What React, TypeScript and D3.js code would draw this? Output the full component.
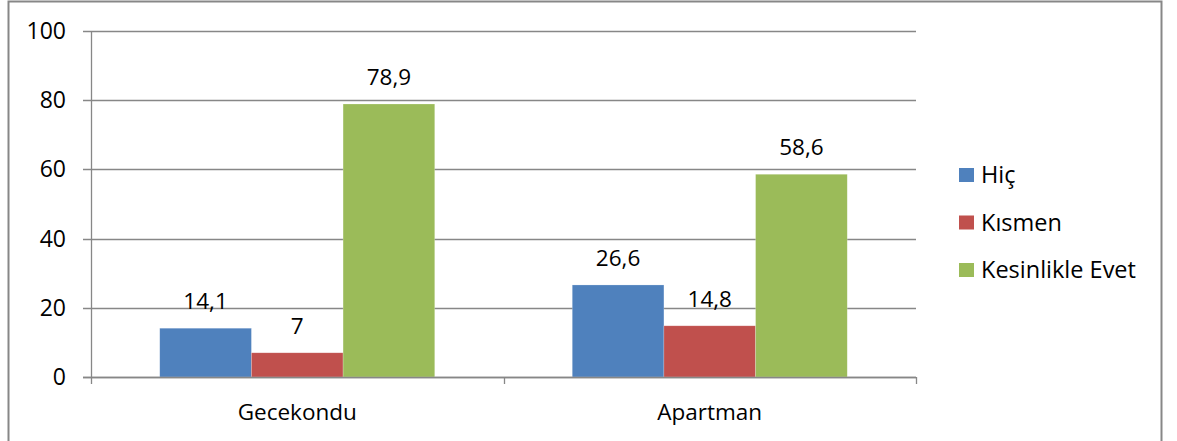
import React from "react";
import * as d3 from "d3";

const categories = ["Gecekondu", "Apartman"];
const seriesNames = ["Hiç", "Kısmen", "Kesinlikle Evet"];
const hicValues = [14.1, 26.6];
const kismenValues = [7, 14.8];
const evetValues = [78.9, 58.6];
const yTicks = [0, 20, 40, 60, 80, 100];
const seriesColors = ["#4F81BD", "#C0504D", "#9BBB59"];

const W = 1177;
const H = 441;
const FONT = "'Open Sans', 'Noto Sans', sans-serif";

export default function App() {
  const series = [hicValues, kismenValues, evetValues];
  const plotLeft = 91;
  const plotRight = 916;
  const plotTop = 31;
  const plotBottom = 377;

  const y = d3.scaleLinear().domain([0, 100]).range([plotBottom, plotTop]);
  const x0 = d3.scaleBand<string>().domain(categories).range([plotLeft, plotRight]).paddingInner(0).paddingOuter(0);
  const x1 = d3
    .scaleBand<number>()
    .domain(d3.range(seriesNames.length))
    .range([0, x0.bandwidth()])
    .paddingInner(0)
    .paddingOuter(0.75);

  const fmt = (v: number) => String(v).replace(".", ",");
  const catBoundaries = [plotLeft, ...categories.map((c) => (x0(c) as number) + x0.bandwidth())];

  return (
    <svg width={W} height={H} style={{ position: "absolute", left: 0, top: 0, background: "#fff" }}>
      <rect x={0} y={0} width={W} height={H} fill="#fff" />
      {/* outer border */}
      <path d={`M8.5,${H + 5} V1.5 H1161.5 V${H + 5}`} fill="none" stroke="#878787" strokeWidth={2} />

      {/* gridlines */}
      {yTicks.map((t) => (
        <line key={"g" + t} x1={plotLeft - 8} x2={plotRight} y1={Math.round(y(t)) + 0.5} y2={Math.round(y(t)) + 0.5} stroke="#878787" strokeWidth={1.3} />
      ))}

      {/* bars */}
      {categories.map((c, ci) =>
        series.map((vals, si) => {
          const bx = (x0(c) as number) + (x1(si) as number);
          const by = y(vals[ci]);
          return (
            <rect key={c + si} x={bx} y={by} width={x1.bandwidth()} height={plotBottom - by} fill={seriesColors[si]} stroke="rgba(255,255,255,0.35)" strokeWidth={0.6} />
          );
        })
      )}

      {/* axes */}
      <line x1={plotLeft + 0.5} x2={plotLeft + 0.5} y1={plotTop} y2={plotBottom} stroke="#878787" strokeWidth={1.3} />
      <line x1={plotLeft - 8} x2={plotRight} y1={plotBottom + 0.5} y2={plotBottom + 0.5} stroke="#878787" strokeWidth={1.3} />
      {catBoundaries.map((bx, i) => (
        <line key={"ct" + i} x1={Math.round(bx) + 0.5} x2={Math.round(bx) + 0.5} y1={plotBottom} y2={plotBottom + 7} stroke="#878787" strokeWidth={1.3} />
      ))}

      {/* y tick labels */}
      {yTicks.map((t) => (
        <text key={"yl" + t} x={66} y={y(t)} dy="0.35em" textAnchor="end" fontFamily={FONT} fontSize={23} fill="#000">
          {t}
        </text>
      ))}

      {/* category labels */}
      {categories.map((c) => (
        <text key={"cl" + c} x={(x0(c) as number) + x0.bandwidth() / 2} y={412} dy="0.35em" textAnchor="middle" fontFamily={FONT} fontSize={22.5} fill="#000">
          {c}
        </text>
      ))}

      {/* value labels */}
      {categories.map((c, ci) =>
        series.map((vals, si) => {
          const bx = (x0(c) as number) + (x1(si) as number) + x1.bandwidth() / 2;
          return (
            <text key={"vl" + c + si} x={bx} y={y(vals[ci]) - 19} textAnchor="middle" fontFamily={FONT} fontSize={22.5} fill="#000">
              {fmt(vals[ci])}
            </text>
          );
        })
      )}

      {/* legend */}
      {seriesNames.map((n, i) => {
        const ly = 175 + i * 47.5;
        return (
          <g key={"lg" + n}>
            <rect x={959} y={ly - 7} width={15} height={14} fill={seriesColors[i]} />
            <text x={981} y={ly} dy="0.35em" fontFamily={FONT} fontSize={23.5} fill="#000">
              {n}
            </text>
          </g>
        );
      })}
    </svg>
  );
}
